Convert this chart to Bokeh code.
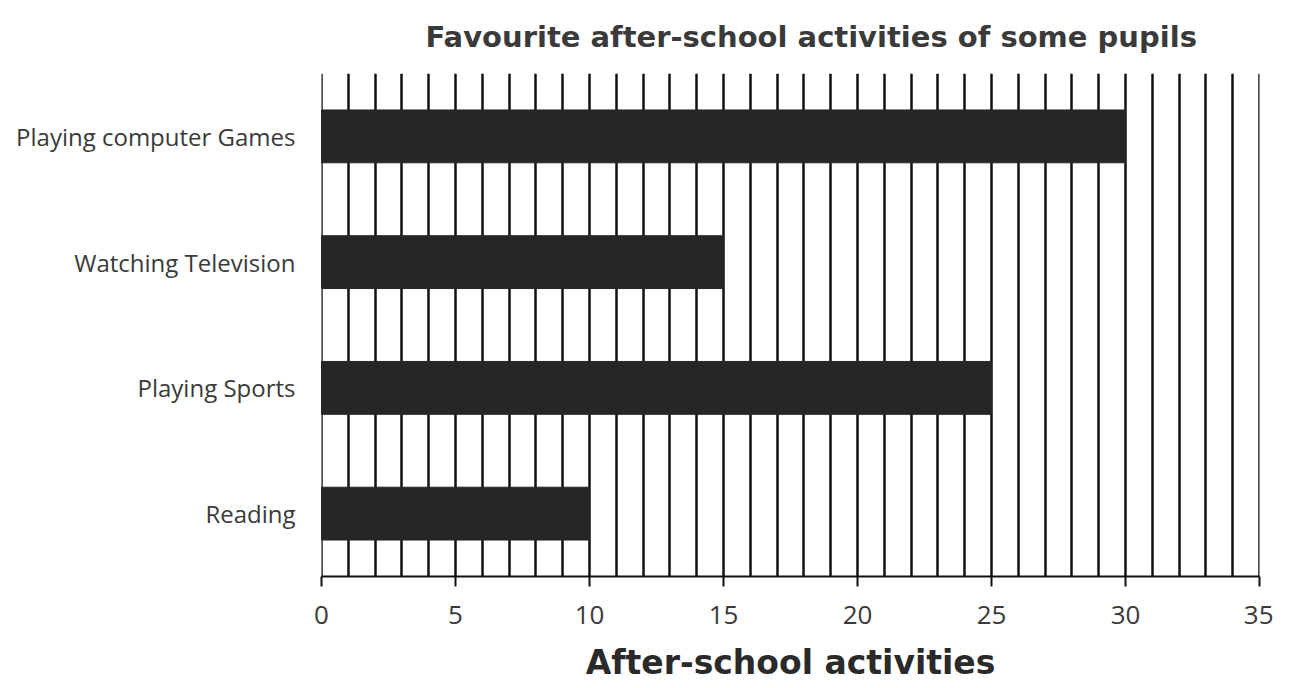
from bokeh.plotting import figure
from bokeh.models import FactorRange, Range1d, SingleIntervalTicker, ColumnDataSource, Span
from bokeh.embed import file_html
from bokeh.resources import INLINE

activities = ["Playing computer Games", "Watching Television", "Playing Sports", "Reading"]
pupils = [30, 15, 25, 10]
x_min = 0
x_max = 35

src = ColumnDataSource(dict(activity=activities, pupils=pupils))

p = figure(width=1273, height=684, output_backend="svg", toolbar_location=None,
           y_range=FactorRange(factors=list(reversed(activities))),
           x_range=Range1d(x_min, x_max),
           min_border_left=321, min_border_right=14, min_border_top=73, min_border_bottom=106)

p.title.text = "Favourite after-school activities of some pupils"
p.title.text_font = "DejaVu Sans"
p.title.text_font_style = "bold"
p.title.text_font_size = "29px"
p.title.text_color = "#3a3a3a"
p.title.align = "left"
p.title.offset = 104
p.title.standoff = 36
p.title.vertical_align = "top"

p.outline_line_color = None
p.ygrid.grid_line_color = None
p.xgrid.ticker = SingleIntervalTicker(interval=1)
p.xgrid.grid_line_color = "#111111"
p.xgrid.grid_line_width = 2.5

for loc in (x_min, x_max):
    p.add_layout(Span(location=loc, dimension="height", line_color="#111111", line_width=2.5))

p.hbar(y="activity", right="pupils", left=x_min, height=0.42, source=src,
       fill_color="#262626", line_color="#262626", level="overlay")

xa = p.xaxis[0]
xa.ticker = SingleIntervalTicker(interval=5, num_minor_ticks=0)
xa.axis_line_color = "#111111"
xa.axis_line_width = 2
xa.major_tick_line_color = "#111111"
xa.major_tick_line_width = 2
xa.major_tick_out = 10
xa.major_tick_in = 0
xa.minor_tick_line_color = None
xa.major_label_text_font = "Open Sans"
xa.major_label_text_font_size = "26px"
xa.major_label_text_color = "#3a3a3a"
xa.major_label_standoff = 19
xa.axis_label = "After-school activities"
xa.axis_label_text_font = "DejaVu Sans"
xa.axis_label_text_font_style = "bold"
xa.axis_label_text_font_size = "33px"
xa.axis_label_text_color = "#2a2a2a"
xa.axis_label_standoff = 16

ya = p.yaxis[0]
ya.axis_line_color = None
ya.major_tick_line_color = None
ya.minor_tick_line_color = None
ya.major_label_text_font = "Open Sans"
ya.major_label_text_font_size = "24px"
ya.major_label_text_color = "#3a3a3a"
ya.major_label_standoff = 20

open("out.html", "w").write(file_html(p, INLINE))
